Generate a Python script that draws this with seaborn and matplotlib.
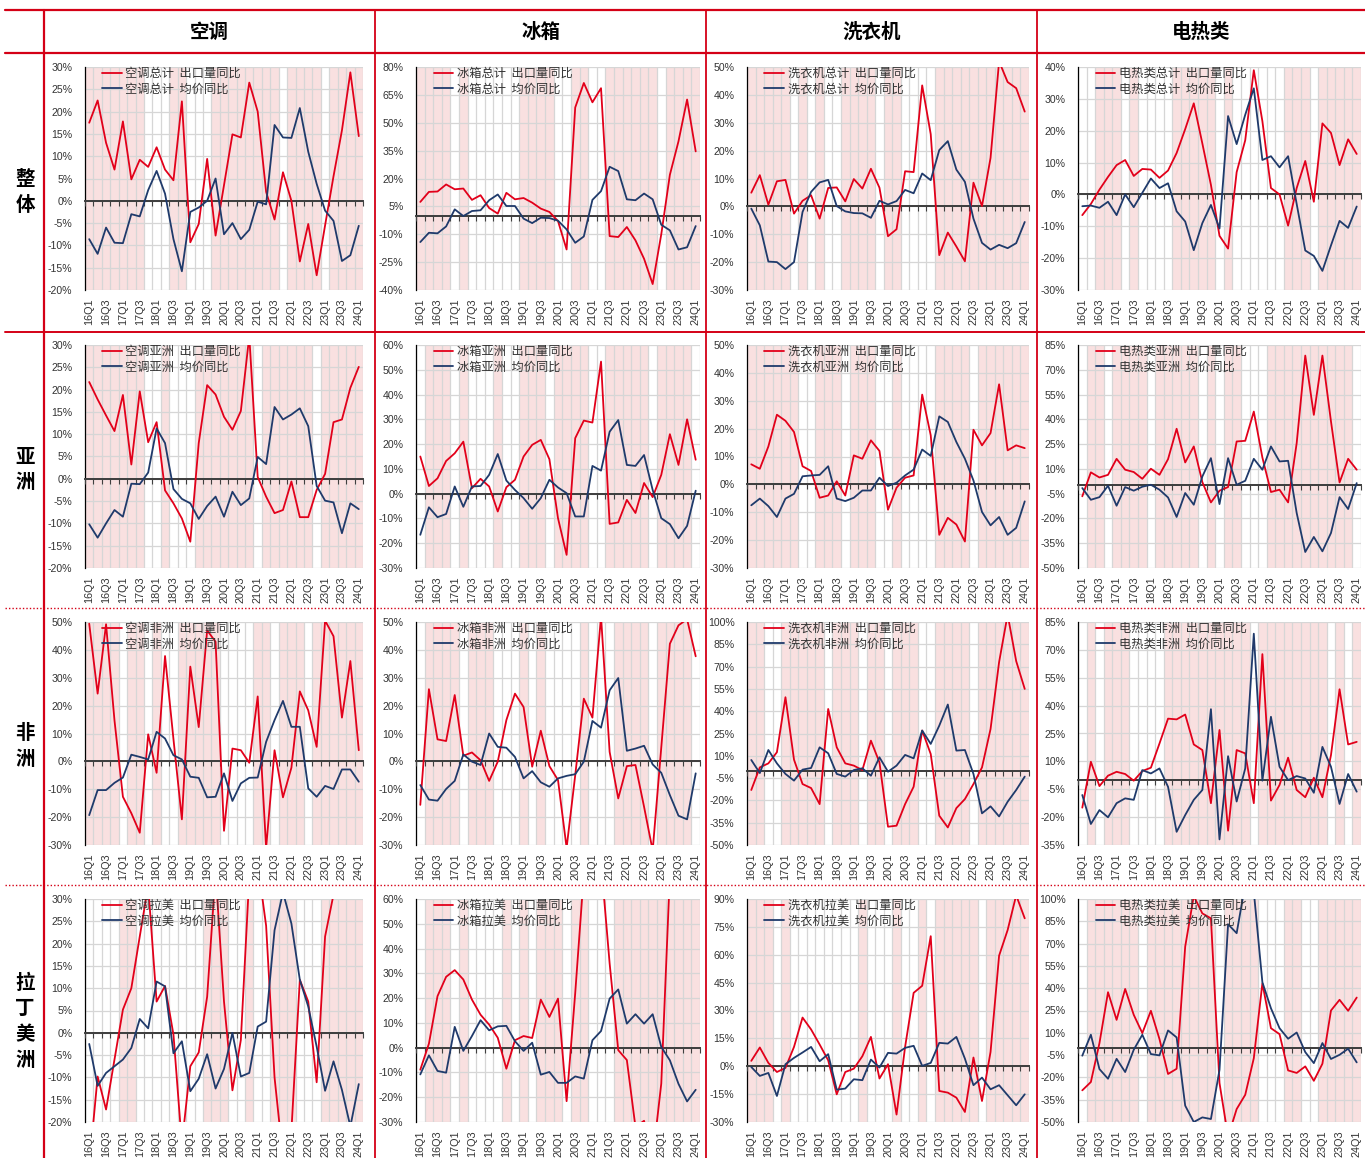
import numpy as np
import pandas as pd
import matplotlib
matplotlib.use("Agg")
import matplotlib.pyplot as plt
from matplotlib.lines import Line2D
from matplotlib.ticker import FuncFormatter
import seaborn as sns

# 季度标签 16Q1 - 24Q1
quarters = [f"{y}Q{q}" for y in range(16, 24) for q in range(1, 5)] + ["24Q1"]
products = ["空调", "冰箱", "洗衣机", "电热类"]
regions = ["总计", "亚洲", "非洲", "拉美"]
row_titles = ["整体", "亚洲", "非洲", "拉丁美洲"]

# ---- 整体 ----
ac_total_vol = [17.5, 22.5, 13, 7, 17.8, 4.8, 9.2, 7.6, 12, 7, 4.6, 22.3, -9.3, -5.2, 9.4, -7.8, 3.5,
                14.9, 14.2, 26.5, 20, 2, -4.2, 6.4, 0, -13.6, -5.2, -16.7, -5.5, 5.5, 15.8, 28.8, 14.5]
ac_total_price = [-8.6, -11.9, -6, -9.4, -9.5, -3, -3.5, 2.4, 6.7, 1.6, -8.6, -15.8, -2.5, -1.5, 0, 5, -7.5,
                  -5, -8.6, -6.5, -0.2, -0.8, 17, 14.2, 14.1, 20.8, 11, 3.8, -2.2, -4.5, -13.5, -12.2, -5.6]
ac_total_shade = [(0, 6), (10, 11), (15, 22), (24, 27), (29, 32)]

fr_total_vol = [7.4, 12.8, 13, 16.8, 14.2, 14.6, 8.5, 11, 4.1, 1.1, 12.3, 8.8, 9.5, 7, 3.8, 2, -2.9,
                -18.2, 58.2, 71.4, 61, 68.6, -11, -11.5, -6.1, -13.3, -23.2, -36.8, -10, 22, 40, 62.5, 34.6]
fr_total_price = [-14.2, -9.2, -9.5, -5.8, 3.4, -0.2, 2.5, 2.9, 8.3, 11.4, 5.2, 5.2, -1.6, -4, -1.1, -1.3, -2.7,
                  -7.4, -14.6, -11.2, 8.5, 13.2, 26.3, 24, 8.8, 8.3, 11.9, 8.8, -4.9, -7.9, -18.2, -17, -5.6]
fr_total_shade = [(0, 3), (5, 5), (12, 15), (18, 19), (22, 27), (29, 32)]

wm_total_vol = [4.9, 11.2, 0.6, 9, 9.5, -2.6, 2, 4, -4.4, 6.6, 6.8, 1.8, 9.8, 6.4, 13.5, 6.7, -10.7,
                -8.2, 12.6, 12.3, 43.4, 25.9, -17.5, -9.4, -14.4, -19.7, 8.5, 0.1, 17.4, 52, 44.6, 42.4, 34]
wm_total_price = [-0.8, -6.8, -19.8, -20, -22.5, -20, -2, 5.2, 8.6, 9.5, 0.1, -1.8, -2.4, -2.5, -4.1, 2, 0.7,
                  1.9, 5.9, 4.7, 11.8, 9.4, 20.2, 23.4, 13.2, 8.8, -4.4, -13.1, -15.5, -13.8, -15, -13.2, -5.6]
wm_total_shade = [(0, 4), (6, 6), (8, 8), (11, 14), (16, 17), (22, 32)]

eh_total_vol = [-6.5, -3, 1.5, 5.5, 9.2, 10.8, 5.8, 8, 7.8, 5.2, 7.5, 13, 20.5, 28.6, 16, 3, -13,
                -17, 7, 17, 39, 23, 2, 0, -9.8, 2, 10.5, -2.3, 22.3, 19.3, 9.2, 17.3, 12.7]
eh_total_price = [-3.7, -3.5, -4.2, -2.3, -6.5, 0, -4, 0.5, 5, 2, 3.5, -5.3, -8.5, -17.5, -9, -3.3, -10.7,
                  24.6, 15.8, 25, 33.3, 10.8, 12, 8.5, 12, -3, -17.6, -19.3, -24, -16, -8.3, -10.5, -3.8]
eh_total_shade = [(2, 4), (6, 6), (11, 15), (17, 17), (24, 26), (28, 32)]

# ---- 亚洲 ----
ac_asia_vol = [21.7, 17.8, 14.2, 10.7, 18.8, 3.2, 19.6, 8.2, 12.7, -2.6, -5.5, -8.9, -14.1, 8, 21, 18.9, 13.9,
               11, 15.2, 32, 0.4, -4, -7.7, -7, -0.6, -8.6, -8.6, -2.5, 1.1, 12.7, 13.3, 20.4, 25.1]
ac_asia_price = [-10.2, -13.2, -10, -7, -8.5, -1.1, -1.2, 1.4, 11.3, 8, -2.3, -4.5, -5.5, -9, -6.1, -4, -8.5,
                 -2.9, -5.9, -4.4, 4.9, 3.3, 16.1, 13.3, 14.4, 15.8, 11.8, -1.6, -4.9, -5.3, -12.2, -5.5, -6.8]
ac_asia_shade = [(0, 6), (9, 9), (13, 19), (21, 26), (28, 32)]

fr_asia_vol = [15, 3.1, 6.2, 13.2, 16.3, 21, 2.2, 6, 2.9, -7.2, 2.6, 5.6, 15, 19.7, 21.7, 13.9, -9.9,
               -24.7, 22.4, 29.5, 28.7, 53.3, -12.2, -11.6, -2.5, -7.8, 4.3, -1.4, 7.6, 24, 11.6, 30, 13.7]
fr_asia_price = [-16.6, -5.5, -9.5, -8.2, 2.9, -5.3, 2.9, 3.1, 7.6, 16, 5.3, 1.5, -1.8, -6.1, -1.8, 5.6, 2.5,
                 0.2, -9.2, -9.2, 11.2, 9.3, 25, 29.7, 11.6, 11.2, 15.6, 1.5, -9.9, -12.3, -18, -13, 1.2]
fr_asia_shade = [(1, 3), (5, 5), (9, 9), (12, 14), (16, 19), (22, 26), (28, 31)]

wm_asia_vol = [7.2, 5.6, 13.6, 25, 22.8, 18.8, 6.5, 4.8, -4.8, -4, 1.1, -4, 10.4, 9.2, 15.8, 12, -9.1,
               -1.2, 2.4, 3.2, 32.2, 17.6, -18.1, -12, -14.4, -20.5, 19.6, 14, 18.4, 35.9, 12.2, 14, 13]
wm_asia_price = [-7.5, -5.1, -7.8, -11.7, -5.1, -3.4, 2.9, 3.2, 3.4, 6.5, -5.1, -6, -4.8, -2.2, -2.2, 2.4, -0.6,
                 0.6, 3.2, 5.3, 12.5, 10.2, 24.4, 22.4, 15.2, 9.2, 1.4, -9.9, -14.7, -11.7, -18.1, -15.6, -6.1]
wm_asia_shade = [(0, 5), (8, 10), (12, 14), (17, 17), (22, 25), (27, 32)]

eh_asia_vol = [-6.6, 7.9, 4.8, 6.4, 16.1, 9.5, 8.1, 4, 10.1, 6.4, 15.9, 34.3, 13.9, 23.6, 2, -10.3, -3.2,
               -1, 26.6, 27, 44.7, 16.9, -4, -2.6, -10.3, 25.6, 78.6, 42.7, 78.6, 38.7, 1.8, 16.1, 9.5]
eh_asia_price = [-1.6, -8.7, -7.1, -0.2, -12.3, -1, -3.2, -0.8, 0.4, -2.6, -7.3, -19.1, -4.6, -11.7, 5.4, 16.5, -11.3,
                 16.5, 0.4, 2.8, 16.1, 9.5, 23.6, 14.5, 14.9, -16.7, -40.3, -31.2, -39.9, -28.8, -7.1, -14.3, 1.4]
eh_asia_shade = [(1, 2), (4, 7), (9, 13), (15, 15), (17, 18), (22, 31)]

# ---- 非洲 ----
ac_africa_vol = [49.4, 24.3, 49.2, 14.7, -12.7, -18.6, -25.6, 9.7, -4.1, 37.8, 8, -20.8, 34, 12.3, 47, 42.9, -24.9,
                 4.6, 4, -0.5, 23.3, -31, 4, -12.9, -2.3, 25.1, 18.3, 5.2, 50.5, 44.9, 15.7, 36, 4]
ac_africa_price = [-19.3, -10.3, -10.3, -7.7, -5.8, 2.4, 1.6, 0.7, 10.6, 8.2, 2.2, 0.7, -5.5, -5.9, -12.9, -12.7, -4.3,
                   -14.2, -7.9, -5.9, -5.8, 7, 14.8, 21.7, 12.4, 12.4, -9.7, -12.7, -8.8, -9.9, -2.9, -2.9, -7.3]
ac_africa_shade = [(0, 3), (5, 6), (8, 8), (11, 15), (20, 21), (23, 25), (27, 32)]

fr_africa_vol = [-15.6, 25.9, 7.9, 7.3, 23.8, 2, 3.2, 0.4, -7, -0.1, 14.8, 24.3, 19.5, -1.9, 11, -1.7, -6.7,
                 -31, -5, 22.5, 15.7, 52, 3.4, -13.3, -1.7, -1.3, -16.3, -32, 5, 42.2, 48.8, 51, 37.7]
fr_africa_price = [-8.5, -13.7, -14.1, -9.9, -7, 2.5, -0.1, -1.3, 10, 5.2, 4.9, 1.6, -6.1, -3.5, -7.5, -9.1, -6.1,
                   -5.2, -4.6, -0.1, 14.5, 12.1, 25.5, 29.9, 3.8, 4.6, 5.6, -1.1, -4.1, -12.1, -19.5, -20.8, -4.3]
fr_africa_shade = [(1, 4), (6, 8), (12, 12), (14, 14), (19, 19), (23, 26), (28, 31)]

wm_africa_vol = [-13, 2.2, 4.9, 12.4, 49.4, 7.4, -9, -11.7, -22.5, 41.5, 15.7, 4.9, 3.4, 0.4, 20.2, 5.6, -37.7,
                 -37, -22.5, -10.8, 27, 11.2, -30.3, -38.2, -25.2, -19.1, -9, 2.2, 28, 73, 105, 73.7, 55]
wm_africa_price = [7.2, -1.6, 13.9, 4.9, -2.2, -6.7, 0.7, 1.8, 15.7, 11.7, -2.2, -4, 0.4, 1.6, -3.4, 9, -0.7,
                   3.4, 10.6, 8.3, 27, 18, 30.3, 44.5, 13.5, 13.9, -2.2, -28.7, -24, -30.8, -20.9, -13, -4]
wm_africa_shade = [(0, 1), (4, 8), (10, 12), (14, 15), (17, 19), (22, 25), (27, 32)]

eh_africa_vol = [-14.9, 9.8, -3.3, 2.3, 4.4, 3.2, -0.4, 4.8, 6.6, 19.6, 33, 32.6, 35.2, 19.1, 16.1, -12.5, 26.9,
                 -27.3, 16.1, 14.3, -12.5, 67.7, -11.1, -2.7, 12, -5.4, -9.3, 1.2, -9.3, 13.4, 48.8, 19.1, 20.5]
eh_africa_price = [-8.1, -23.7, -16.2, -20.1, -12.5, -9.9, -10.7, 5.3, 3.5, 6.2, -3.7, -27.9, -18.9, -10.7, -5.4, 38.1, -32,
                   12.8, -11.6, 6.2, 78.7, -0.4, 34, 7.1, -0.1, 2.1, 0.8, -6.9, 17.8, 7.1, -12.9, 3.2, -6.3]
eh_africa_shade = [(1, 1), (3, 5), (10, 19), (21, 28), (30, 30), (32, 32)]

# ---- 拉美 ----
ac_latam_vol = [-30, -9.8, -17.2, -6, 5.2, 10, 21.6, 33, 7, 10.5, -0.4, -25, -7.5, -4.4, 8.1, 36, 7,
                -12.9, -1.6, 35, 38, 24, -10, -28, -22, 11.9, 7, -11.1, 21.6, 31, 38, 45, 40]
ac_latam_price = [-2.5, -11.9, -9, -7.5, -6, -3.4, 3.1, 1, 11.5, 10.4, -4.6, -1.9, -13.1, -10.3, -4.8, -12.5, -8.1,
                  0, -9.8, -9, 1.4, 2.5, 23, 31.5, 24.5, 11.9, 5.9, -3.1, -13, -6.4, -12.8, -21, -11.5]
ac_latam_shade = [(4, 5), (14, 16), (19, 19), (22, 24), (28, 32)]

fr_latam_vol = [-8.9, 1.6, 20.8, 28.6, 31.3, 27.5, 19.4, 13.3, 9.3, 4, -8.5, 3, 4.7, 3.9, 19.4, 12.4, 19.8,
                -21.6, 22, 70, 85, 75, 34, -1, -5, -32, -29.5, -45, -14.5, 70, 90, 100, 90]
fr_latam_price = [-10.8, -3.1, -9.4, -10.1, 8.4, -1.3, 4.7, 11.1, 7, 8.6, 8.8, 2.6, -1.3, 2, -10.9, -9.8, -14.2,
                  -14.2, -11.6, -12.5, 3, 6.7, 19.8, 23.5, 9.7, 13.5, 9.7, 13.5, 0.3, -5.1, -14.6, -21.7, -17]
fr_latam_shade = [(1, 3), (5, 5), (10, 10), (12, 12), (14, 16), (18, 19), (23, 32)]

wm_latam_vol = [2.9, 10.1, 1.8, -3.1, -0.9, 10.4, 26.2, 19.8, 11.7, 3.2, -15.1, -3.1, -1.3, 5.4, 15.8, -6.6, 1.1,
                -26, 10.4, 39.5, 43.3, 70, -13.3, -14.2, -16.9, -24.6, 4.7, -18.7, 7.7, 59.5, 73.3, 92, 79.6]
wm_latam_price = [-0.4, -5.2, -3.6, -16, 1.1, 4.5, 7.4, 10.4, 2.7, 6.5, -12.6, -12, -7, -7.5, 3.6, -0.7, 7.2,
                  6.8, 9.9, 11, 0.2, 1.8, 12.6, 12.2, 15.8, 4.1, -10.2, -6.1, -12.4, -10.2, -15.6, -21, -15.1]
wm_latam_shade = [(0, 2), (4, 4), (13, 13), (17, 17), (20, 20), (22, 26), (28, 32)]

eh_latam_vol = [-28.7, -23.1, 3, 37.3, 18.7, 39.5, 22.1, 9.8, 24.8, 5.8, -17.7, -14.2, 68, 102, 90.3, 87, -23.8,
                -60, -41.3, -31.7, -7.1, 43.3, 13.1, 9.1, -15.3, -17, -12.6, -22.3, -10.8, 25, 32.2, 24.8, 33.7]
eh_latam_price = [-5.4, 8.7, -14.4, -20.9, -7.5, -16.4, -1.4, 8.7, -4.3, -5.2, 11.6, 6.9, -39, -50, -46.9, -48, -14.9,
                  83, 77, 110, 105, 44, 26.5, 13.1, 6, 10.2, -3, -10.4, 3.1, -7.6, -4.8, -0.7, -9.9]
eh_latam_shade = [(1, 6), (8, 15), (17, 20), (24, 25), (28, 32)]

vol_grid = [[ac_total_vol, fr_total_vol, wm_total_vol, eh_total_vol],
            [ac_asia_vol, fr_asia_vol, wm_asia_vol, eh_asia_vol],
            [ac_africa_vol, fr_africa_vol, wm_africa_vol, eh_africa_vol],
            [ac_latam_vol, fr_latam_vol, wm_latam_vol, eh_latam_vol]]
price_grid = [[ac_total_price, fr_total_price, wm_total_price, eh_total_price],
              [ac_asia_price, fr_asia_price, wm_asia_price, eh_asia_price],
              [ac_africa_price, fr_africa_price, wm_africa_price, eh_africa_price],
              [ac_latam_price, fr_latam_price, wm_latam_price, eh_latam_price]]
shade_grid = [[ac_total_shade, fr_total_shade, wm_total_shade, eh_total_shade],
              [ac_asia_shade, fr_asia_shade, wm_asia_shade, eh_asia_shade],
              [ac_africa_shade, fr_africa_shade, wm_africa_shade, eh_africa_shade],
              [ac_latam_shade, fr_latam_shade, wm_latam_shade, eh_latam_shade]]
# 纵轴范围 (min, max, step)
y_ranges = [[(-20, 30, 5), (-40, 80, 15), (-30, 50, 10), (-30, 40, 10)],
            [(-20, 30, 5), (-30, 60, 10), (-30, 50, 10), (-50, 85, 15)],
            [(-30, 50, 10), (-30, 50, 10), (-50, 100, 15), (-35, 85, 15)],
            [(-20, 30, 5), (-30, 60, 10), (-30, 90, 15), (-50, 100, 15)]]

RED = "#E2001A"
BLUE = "#1F3A6B"
PINK = "#F9E0E0"
GRID = "#D6D6D6"
BORDER = "#D40016"
ZERO = "#404040"
CJK = "Noto Sans CJK SC"

sns.set_theme(style="white")
plt.rcParams["font.family"] = ["Liberation Sans", CJK]
plt.rcParams["axes.unicode_minus"] = False

W, H = 1365, 1158
fig = plt.figure(figsize=(W / 100, H / 100), dpi=100)


def rect(x0, y0, x1, y1):
    return [x0 / W, 1 - y1 / H, (x1 - x0) / W, (y1 - y0) / H]


ax_left = [85, 416, 747, 1078]
ax_right = [363, 700, 1029, 1361]
ax_top = [67, 345, 622, 899]
ax_h = 223
xs = np.arange(len(quarters))
bounds = np.arange(-0.5, len(quarters), 1)

for r in range(4):
    for c in range(4):
        ax = fig.add_axes(rect(ax_left[c], ax_top[r], ax_right[c], ax_top[r] + ax_h))
        lo, hi, step = y_ranges[r][c]
        for s, e in shade_grid[r][c]:
            ax.axvspan(s - 0.5, e + 0.5, color=PINK, lw=0, zorder=0.1)

        # 零轴
        ax.axhline(0, color=ZERO, lw=1.4, zorder=2)

        df = pd.DataFrame({"q": xs, "vol": vol_grid[r][c], "price": price_grid[r][c]})
        name = products[c] + regions[r]
        sns.lineplot(data=df, x="q", y="vol", color=RED, lw=1.3, ax=ax,
                     label=f"{name}  出口量同比", zorder=3)
        sns.lineplot(data=df, x="q", y="price", color=BLUE, lw=1.3, ax=ax,
                     label=f"{name}  均价同比", zorder=3)

        ax.set_xlim(-0.5, len(quarters) - 0.5)
        ax.set_ylim(lo, hi)
        ax.set_yticks(np.arange(lo, hi + step / 2, step))
        ax.yaxis.set_major_formatter(FuncFormatter(lambda v, _: f"{v:.0f}%"))
        ax.set_xticks(xs[::2])
        ax.set_xticklabels(quarters[::2], rotation=90)
        ax.set_xticks(bounds, minor=True)
        ax.tick_params(axis="x", which="both", length=0, pad=6, labelsize=7.8, labelcolor="#333333")
        ax.tick_params(axis="y", length=0, pad=9, labelsize=7.6, labelcolor="#333333")
        ax.grid(axis="y", which="major", color=GRID, lw=0.9)
        ax.grid(axis="x", which="minor", color=GRID, lw=0.9)
        ax.grid(axis="x", which="major", visible=False)
        ax.set_axisbelow(True)
        for side in ["top", "right", "bottom"]:
            ax.spines[side].set_visible(False)
        ax.spines["left"].set_color("black")
        ax.spines["left"].set_linewidth(0.9)
        ax.set_xlabel("")
        ax.set_ylabel("")

        # 零轴下方的分类刻度
        sec = ax.secondary_xaxis(-lo / (hi - lo))
        sec.set_zorder(2.5)
        sec.set_alignment("bottom")
        sec.set_xticks(bounds)
        sec.tick_params(axis="x", direction="out", length=3.5, width=0.8, color=ZERO,
                        labelbottom=False, labeltop=False)
        for side in ["top", "bottom"]:
            sec.spines[side].set_color(ZERO)
            sec.spines[side].set_linewidth(1.4)

        ax.legend(loc="upper left", bbox_to_anchor=(0.062, 1.0), frameon=False,
                  prop={"family": CJK, "size": 8.8}, labelcolor="#333333",
                  handlelength=1.6, handletextpad=0.3, labelspacing=0.2,
                  borderaxespad=0, borderpad=0)

# 表头与行标题
col_x = [44, 375, 706, 1037, 1365]
row_y = [53, 332, 608, 885, 1158]
for c, title in enumerate(products):
    fig.text((col_x[c] + col_x[c + 1]) / 2 / W, 1 - 32 / H, title, ha="center", va="center",
             fontsize=14, fontweight="bold", family=CJK, color="black")
for r, title in enumerate(row_titles):
    fig.text(25 / W, 1 - (row_y[r] + row_y[r + 1]) / 2 / H, "\n".join(title), ha="center", va="center",
             fontsize=14, fontweight="bold", family=CJK, linespacing=1.45, color="black")


def hline(y, lw, ls="-"):
    fig.add_artist(Line2D([5 / W, 1], [1 - y / H, 1 - y / H], transform=fig.transFigure,
                          color=BORDER, lw=lw, ls=ls))


def vline(x, lw):
    fig.add_artist(Line2D([x / W, x / W], [1 - 10 / H, 0], transform=fig.transFigure,
                          color=BORDER, lw=lw))


hline(10, 1.6)
hline(53, 1.6)
hline(332, 1.4)
hline(608, 1.0, (0, (1, 1.5)))
hline(885, 1.0, (0, (1, 1.5)))
vline(44, 1.6)
for x in col_x[1:4]:
    vline(x, 1.3)

fig.savefig("out.png", dpi=100)
